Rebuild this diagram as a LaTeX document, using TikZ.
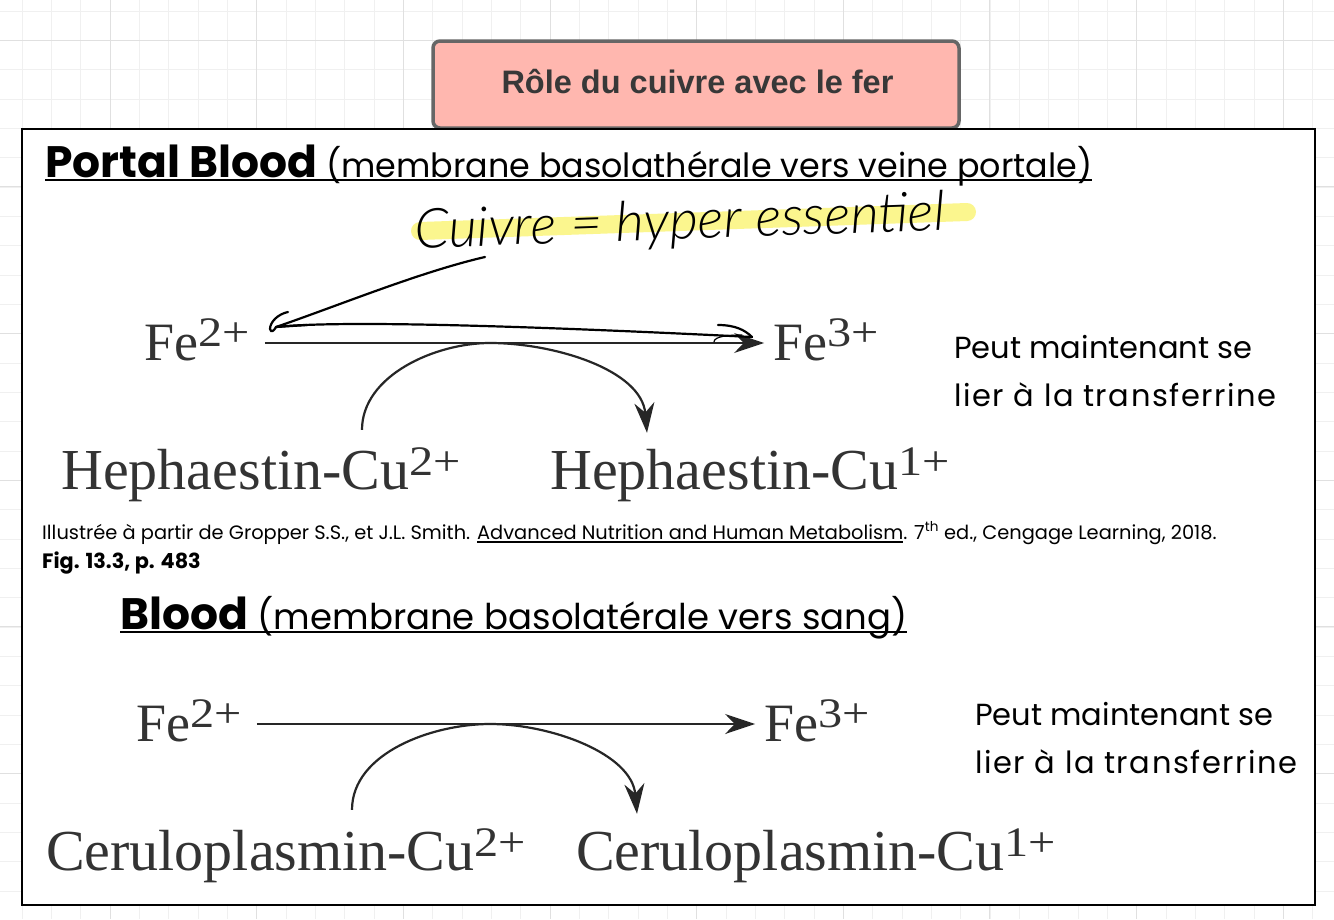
\documentclass[tikz,border=0pt]{standalone}
\usepackage{fontspec}
\usepackage{xcolor}
\usetikzlibrary{arrows.meta}
\setmainfont{Liberation Serif}
\newfontfamily\titrefont{Liberation Sans}
\newfontfamily\futfont{Poppins}
\newfontfamily\plumefont{Lato Light}
\definecolor{saumon}{HTML}{FFB7AF}
\definecolor{bordgris}{HTML}{666666}
\definecolor{surligne}{HTML}{FBF68E}
\newcommand{\souligne}[2][2pt]{\setbox0=\hbox{#2}\rlap{\rule[-3.5pt]{\wd0}{#1}}\box0}
\newcommand{\expo}[1]{\raisebox{14pt}{\scalebox{1.15}[1]{\fontsize{42}{42}\selectfont #1}}}
\newcommand{\espace}{\addfontfeature{LetterSpace=5}}
\begin{document}
\begin{tikzpicture}[
	x=1pt, y=-1pt,
	titre/.style={draw=bordgris, fill=saumon, line width=3.5pt, rounded corners=7pt, minimum width=526pt, minimum height=87pt, text=black!78, text height=24pt, text depth=7pt, font=\titrefont\bfseries\fontsize{32.5}{36}\selectfont},
	entete/.style={anchor=base west, inner sep=0pt, font=\futfont\selectfont},
	fer/.style={text height=34pt, text depth=0pt, inner ysep=0pt, inner xsep=12pt, text=black!80, font=\fontsize{54}{54}\selectfont},
	enzyme/.style={text height=34pt, text depth=0pt, inner ysep=22pt, inner xsep=0pt, text=black!80, font=\fontsize{58}{58}\selectfont},
	note/.style={anchor=base west, inner sep=0pt, align=left, font=\futfont\fontsize{30.5}{48}\selectfont},
	fleche/.style={line width=2.2pt, black!85, shorten <=3pt, shorten >=-3pt, -{Stealth[length=30pt,width=20pt]}},
	courbe/.style={line width=2.2pt, black!85, -{Stealth[length=30pt,width=20pt]}},
	plume/.style={line width=2.2pt, line cap=round, black}
	]

	%Fond quadrille
	\useasboundingbox (0,0) rectangle (1334,919);
	\fill[white] (0,0) rectangle (1334,919);
	\foreach \i in {0,...,45}{
		\draw[black!6] ({22+29.33*\i},0) -- ({22+29.33*\i},919);
	}
	\foreach \j in {0,...,31}{
		\draw[black!6] (0,{11+29.33*\j}) -- (1334,{11+29.33*\j});
	}
	\foreach \i in {0,...,8}{
		\draw[black!12] ({110+146.6*\i},0) -- ({110+146.6*\i},919);
	}
	\foreach \j in {0,...,5}{
		\draw[black!12] (0,{40+146.6*\j}) -- (1334,{40+146.6*\j});
	}

	%Titre et cadre
	\node[titre] (titre) at (696,84.5) {\hspace*{3pt}R\^ole du cuivre avec le fer};
	\node[draw=black, fill=white, line width=2.6pt, minimum width=1293pt, minimum height=776pt, inner sep=0pt] (cadre) at (668.5,517) {};

	%Portal Blood
	\node[entete] (enteteA) at (45,177) {\souligne{{\bfseries\fontsize{44}{46}\selectfont Portal Blood}\hspace{6pt} {\fontsize{33.35}{36}\selectfont (membrane basolath\'erale vers veine portale)}}};
	\draw[surligne, line width=18pt, line cap=round] (420,231) -- (967,212);
	\node[rotate=2, font=\plumefont\itshape\fontsize{55}{55}\selectfont] (cuivre) at (680,224) {Cuivre = hyper essentiel};

	\node[fer] (feA) at (197,343) {Fe\expo{2+}};
	\node[fer] (feB) at (826,343) {Fe\expo{3+}};
	\node[enzyme] (hephA) at (261,472) {Hephaestin-Cu\expo{2+}};
	\node[enzyme] (hephB) at (750,472) {Hephaestin-Cu\expo{1+}};
	\node[note] (noteA) at (954,406) {Peut maintenant se\\{\espace lier \`a la transferrine}};
	\coordinate (sommetA) at (490,343);

	\draw[fleche] (feA) -- (feB);
	\draw[courbe] ([shift={(101pt,3pt)}]hephA.north) to[out=90,in=180,looseness=.9] (sommetA) to[out=0,in=95,looseness=.9] ([xshift=-103pt]hephB.north);

	%Fleches a la main
	\coordinate (mainA) at (485,257);
	\coordinate (pointeG) at (276,327);
	\coordinate (pointeD) at (752,337);
	\draw[plume] (mainA) .. controls (420,272) and (340,305) .. (pointeG);
	\draw[plume] (288,312) .. controls (278,314) and (270,322) .. (270,329) .. controls (271,333) and (274,331) .. (pointeG);
	\draw[plume] (pointeG) -- (307,325);
	\draw[plume] (pointeG) .. controls (340,320) and (530,326) .. (pointeD);
	\draw[plume] (718,325) .. controls (735,325) and (745,330) .. (pointeD);
	\draw[plume, line width=1.2pt] (714,342) .. controls (714,336) and (730,335) .. (742,335);

	%Reference
	\node[anchor=base west, inner sep=0pt, font=\futfont\fontsize{19.4}{24}\selectfont] (source) at (42,539) {Illustr\'ee \`a partir de Gropper S.S., et J.L. Smith. \souligne[1.2pt]{Advanced Nutrition and Human Metabolism}. 7\textsuperscript{th} ed., Cengage Learning, 2018.};
	\node[anchor=base west, inner sep=0pt, font=\futfont\bfseries\fontsize{20.8}{24}\selectfont] (figure) at (42,568) {Fig. 13.3, p. 483};

	%Blood
	\node[entete] (enteteB) at (120,629) {\souligne{{\bfseries\fontsize{44}{46}\selectfont Blood}\hspace{7pt} {\fontsize{35.5}{38}\selectfont (membrane basolat\'erale vers sang)}}};

	\node[fer] (feC) at (189,724) {Fe\expo{2+}};
	\node[fer] (feD) at (817,724) {Fe\expo{3+}};
	\node[enzyme] (ceruA) at (286,853) {Ceruloplasmin-Cu\expo{2+}};
	\node[enzyme] (ceruB) at (816,853) {Ceruloplasmin-Cu\expo{1+}};
	\node[note] (noteB) at (975,773) {Peut maintenant se\\{\espace lier \`a la transferrine}};
	\coordinate (sommetB) at (490,724);

	\draw[fleche] (feC) -- (feD);
	\draw[courbe] ([shift={(66pt,4pt)}]ceruA.north) to[out=90,in=180,looseness=.9] (sommetB) to[out=0,in=95,looseness=.9] ([xshift=-179pt]ceruB.north);

\end{tikzpicture}
\end{document}
